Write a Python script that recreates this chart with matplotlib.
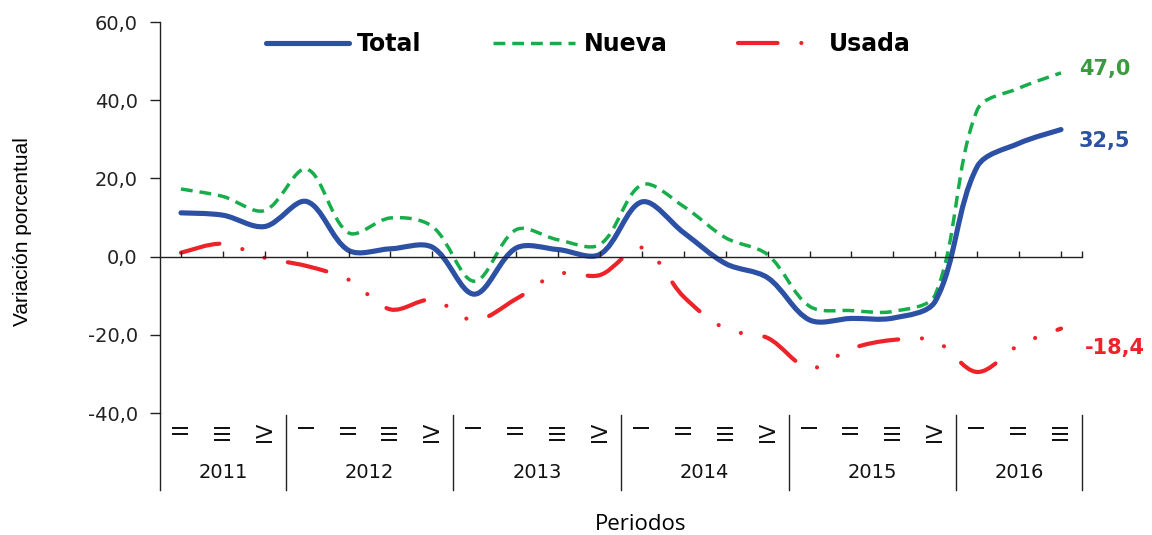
import numpy as np
import matplotlib
matplotlib.use("Agg")
import matplotlib.pyplot as plt
from matplotlib.path import Path
from matplotlib.patches import PathPatch
from matplotlib.lines import Line2D
import matplotlib.transforms as mtransforms

# datos trimestrales (2011-II a 2016-III)
quarters = ["II", "III", "IV",
            "I", "II", "III", "IV",
            "I", "II", "III", "IV",
            "I", "II", "III", "IV",
            "I", "II", "III", "IV",
            "I", "II", "III"]
years = ["2011", "2012", "2013", "2014", "2015", "2016"]
year_len = [3, 4, 4, 4, 4, 3]

total = [11.2, 10.6, 7.7, 14.1, 1.6, 2.0, 2.4, -9.6, 2.2, 1.8, 0.6,
         14.0, 6.1, -1.8, -5.4, -16.2, -15.8, -15.7, -11.4, 23.0, 29.0, 32.5]
nueva = [17.3, 15.4, 11.8, 22.4, 6.1, 9.9, 7.7, -6.3, 6.9, 4.3, 3.1,
         18.4, 12.8, 4.8, 0.5, -12.7, -13.8, -14.0, -9.7, 37.5, 43.1, 47.0]
usada = [1.0, 3.3, -0.3, -2.4, -5.9, -13.5, -11.0, -16.3, -10.8, -4.4, -4.7,
         2.3, -10.3, -18.5, -20.8, -28.5, -23.5, -21.3, -21.6, -29.5, -22.6, -18.4]

BLUE = "#2c51a4"
GREEN = "#17ad4b"
RED = "#ee2229"

# escala aproximada en pixeles (para el suavizado)
PX_X = 41.9
PX_Y = 3.915


def smooth_path(xs, ys):
    # curva bezier tipo Excel que pasa por los puntos (tangentes ponderadas por cuerda)
    p = np.column_stack([xs, ys]).astype(float)
    n = len(p)
    sc = np.array([PX_X, PX_Y])
    d = [np.hypot(*((p[i + 1] - p[i]) * sc)) for i in range(n - 1)]
    tang = []
    for i in range(n):
        a = p[i - 1] if i > 0 else p[i]
        b = p[i + 1] if i < n - 1 else p[i]
        tang.append(b - a)
    verts = [p[0]]
    codes = [Path.MOVETO]
    for i in range(n - 1):
        dl = d[i - 1] if i > 0 else d[i]
        dr = d[i + 1] if i + 1 < n - 1 else d[i]
        c1 = p[i] + tang[i] * d[i] / (dl + d[i]) / 3.0
        c2 = p[i + 1] - tang[i + 1] * d[i] / (d[i] + dr) / 3.0
        verts += [c1, c2, p[i + 1]]
        codes += [Path.CURVE4] * 3
    return Path(verts, codes)


fig = plt.figure(figsize=(11.52, 5.35), dpi=100)
ax = fig.add_axes([0.1389, 0.228, 0.8003, 0.7308])

x = np.arange(len(quarters))

ax.add_patch(PathPatch(smooth_path(x, nueva), fill=False, edgecolor=GREEN,
                       lw=2.5, linestyle=(0, (3.4, 2.0)), capstyle="butt"))
ax.add_patch(PathPatch(smooth_path(x, usada), fill=False, edgecolor=RED,
                       lw=3.0, linestyle=(0, (9.5, 5.7, 0.01, 5.7, 0.01, 5.7)),
                       capstyle="round", joinstyle="round"))
ax.add_patch(PathPatch(smooth_path(x, total), fill=False, edgecolor=BLUE,
                       lw=3.7, capstyle="round", joinstyle="round"))

ax.set_xlim(-0.5, len(quarters) - 0.5)
ax.set_ylim(-40, 60)
ax.set_yticks([-40, -20, 0, 20, 40, 60])
ax.set_yticklabels([f"{v:.1f}".replace(".", ",") for v in [-40, -20, 0, 20, 40, 60]],
                   fontsize=14)
ax.tick_params(axis="y", direction="out", length=7, width=1.0, pad=9, colors="#222222")
ax.set_xticks(list(x) + [len(quarters) - 0.5])
ax.tick_params(axis="x", direction="in", length=4, width=1.0, labelbottom=False,
               colors="#222222")

for s in ["top", "right"]:
    ax.spines[s].set_visible(False)
ax.spines["bottom"].set_position(("data", 0))
ax.spines["bottom"].set_color("#222222")
ax.spines["left"].set_color("#222222")
ax.spines["left"].set_linewidth(1.0)
ax.spines["bottom"].set_linewidth(1.0)

# zona de categorías (trimestres y años)
trans = mtransforms.blended_transform_factory(ax.transData, ax.transAxes)
ax.add_line(Line2D([-0.5, -0.5], [0, -0.197], transform=trans, color="#222222",
                   lw=1.0, clip_on=False))
bounds = np.cumsum(year_len) - 0.5
for b in bounds:
    ax.add_line(Line2D([b, b], [-0.005, -0.197], transform=trans, color="#222222",
                       lw=1.0, clip_on=False))
for i, q in enumerate(quarters):
    ax.text(i, -0.022, q, transform=trans, rotation=90, ha="center", va="top",
            fontsize=15, color="#111111")
start = -0.5
for yr, n in zip(years, year_len):
    ax.text(start + n / 2.0, -0.153, yr, transform=trans, ha="center", va="center",
            fontsize=14, color="#111111")
    start += n

# etiquetas finales
ax.annotate("47,0", xy=(x[-1], nueva[-1]), xytext=(13, 3), textcoords="offset points",
            ha="left", va="center", fontsize=15, fontweight="bold", color="#3a9a3f")
ax.annotate("32,5", xy=(x[-1], total[-1]), xytext=(13, -8), textcoords="offset points",
            ha="left", va="center", fontsize=15, fontweight="bold", color=BLUE)
ax.annotate("-18,4", xy=(x[-1], usada[-1]), xytext=(17, -14), textcoords="offset points",
            ha="left", va="center", fontsize=15, fontweight="bold", color=RED)

handles = [
    Line2D([], [], color=BLUE, lw=3.7, solid_capstyle="round"),
    Line2D([], [], color=GREEN, lw=2.5, linestyle=(0, (3.4, 2.0))),
    Line2D([], [], color=RED, lw=3.0, linestyle=(0, (9.5, 5.7, 0.01, 5.7, 0.01, 5.7)),
           dash_capstyle="round"),
]
leg = ax.legend(handles, ["Total", "Nueva", "Usada"], loc="center",
                bbox_to_anchor=(0.465, 0.944), ncol=3, frameon=False,
                prop={"size": 17, "weight": "bold"}, handlelength=3.5,
                handletextpad=0.35, columnspacing=3.0, borderaxespad=0)

fig.text(23 / 1152, 1 - 232 / 535, "Variación porcentual", rotation=90,
         ha="center", va="center", fontsize=15, family="Liberation Sans")
fig.text(641 / 1152, 1 - 524 / 535, "Periodos", ha="center", va="center",
         fontsize=16, family="Open Sans")

fig.savefig("out.png", dpi=100)
